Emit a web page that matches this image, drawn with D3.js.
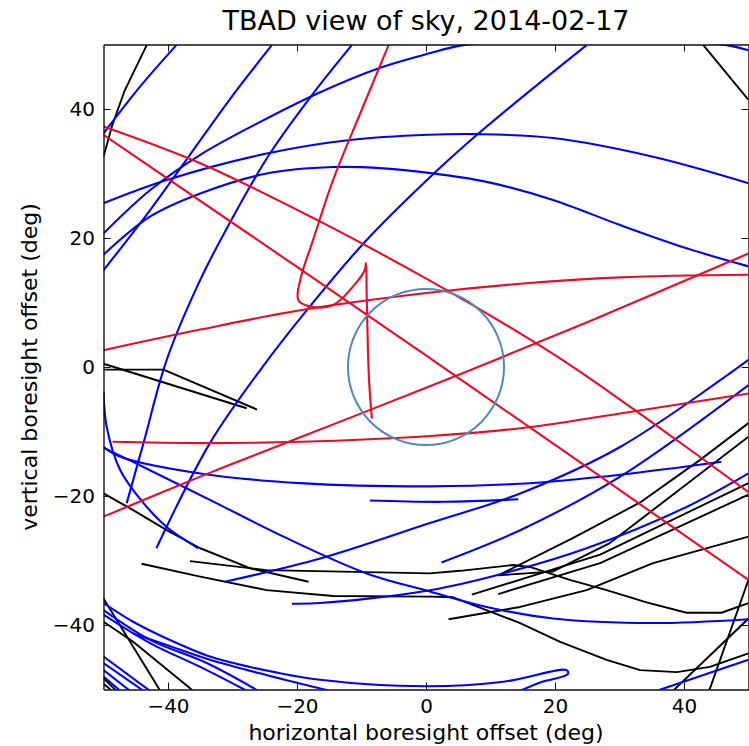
<!DOCTYPE html>
<html>
<head>
<meta charset="utf-8">
<script src="https://cdn.jsdelivr.net/npm/d3@7"></script>
<style>
  body { margin: 0; background: #ffffff; }
  svg { display: block; font-family: "DejaVu Sans", sans-serif; }
</style>
</head>
<body>
<div id="chart"></div>
<script>
/**
 * TBAD sky view - tracks across the boresight field, 2014-02-17
 * All values are in degrees of boresight offset [x, y]
 */

const chartTitle = 'TBAD view of sky, 2014-02-17';
const xLabel = 'horizontal boresight offset (deg)';
const yLabel = 'vertical boresight offset (deg)';
const xTicks = [-40, -20, 0, 20, 40];
const yTicks = [-40, -20, 0, 20, 40];
const fovRadius = 12.1;

// red tracks
const redUpperA = [[-50, 37.3], [-35.0, 31.6], [-16.9, 22.8], [0.4, 13.5], [14.6, 5.2], [23.4, -0.4], [35.2, -8.7], [50, -19.4]];
const redUpperB = [[-50, 36.0], [0, 1.8], [50, -33.0]];
const redArc = [[-50, 2.6], [-35.0, 5.8], [-19.5, 8.8], [0.4, 11.5], [14.6, 12.9], [30.1, 13.9], [50, 14.3]];
const redLoop = [[-5.8, 49.9], [-10.2, 39.3], [-14.4, 29.0], [-17.5, 19.7], [-19.5, 13.5], [-19.8, 10.4], [-18.0, 9.4],
  [-14.4, 9.6], [-11.3, 12.5], [-9.5, 15.0], [-9.3, 16.1], [-9.2, 11.4], [-8.9, -0.5], [-8.7, -4.1], [-8.4, -8.0]];
const redRise = [[-50, -23.2], [-35.0, -17.0], [-19.5, -10.9], [0.6, -3.0], [11.0, 1.2], [24.9, 6.9], [50, 17.6]];
const redLow = [[-48.6, -11.6], [-35.0, -11.8], [-19.5, -11.6], [0.6, -10.7], [14.6, -9.5], [30.1, -7.2], [50, -4.1]];

// blue tracks
const blueArcTop = [[-50, 20.7], [-42.8, 27.4], [-35.0, 32.9], [-25.7, 38.0], [-16.4, 42.6], [-7.1, 46.4], [0.4, 48.6],
  [5.8, 49.9], [26.2, 51.5], [46.6, 49.9], [50, 49.1]];
const blueArcMid = [[-50, 25.4], [-40.2, 29.0], [-24.7, 33.1], [-11.8, 35.2], [0.4, 36.0], [7.9, 36.1], [19.7, 35.5], [35.2, 32.6], [50, 28.5]];
const blueArcLow = [[-50, 17.4], [-42.8, 23.3], [-35.0, 26.9], [-24.7, 30.0], [-14.4, 31.0], [-6.6, 30.8], [0.4, 30.1],
  [9.4, 28.7], [19.7, 25.9], [30.1, 22.0], [40.4, 18.4], [50, 15.6]];
const blueCorner = [[-38.7, 49.9], [-44.3, 43.5], [-50, 36.2]];
const blueDiagA = [[-23.9, 49.9], [-29.9, 42.2], [-36.6, 32.9], [-42.8, 24.3], [-50, 15.0]];
const blueDiagB = [[-11.5, 49.9], [-17.5, 42.4], [-24.2, 33.1], [-29.9, 23.3], [-35.0, 13.5], [-40.2, 1.1], [-43.8, -11.8], [-46.4, -21.1]];
const blueDiagC = [[24.9, 49.9], [7.9, 36.0], [-0.9, 28.0], [-9.2, 19.7], [-18.0, 9.4], [-25.5, -0.2], [-33.5, -11.8], [-41.8, -28.1]];
const blueLeftBend = [[-50, -3.8], [-49.5, -9.3], [-47.4, -16.0], [-43.8, -21.1], [-40.2, -24.8], [-35.3, -28.1]];
const blueFlat = [[-50, -12.4], [-47.4, -13.9], [-35.0, -16.5], [-19.5, -18.0], [0.6, -18.5], [14.6, -18.1], [30.1, -16.7], [45.8, -14.7]];
const blueSweep = [[-50, -12.5], [-42.8, -16.0], [-32.5, -21.1], [-22.1, -26.3], [-9.2, -32.0], [0.6, -34.8], [9.4, -37.2],
  [19.7, -39.0], [35.2, -39.7], [50, -39.1]];
const blueShort = [[-8.7, -20.7], [2.8, -20.9], [14.3, -20.5]];
const blueRiseA = [[-31.2, -33.3], [-16.4, -29.7], [0.6, -24.2], [14.6, -19.6], [30.1, -12.4], [50, 1.1]];
const blueRiseB = [[-20.8, -36.7], [-16.4, -36.6], [0.6, -34.6], [12.0, -32.0], [24.9, -28.1], [40.4, -21.7], [50, -16.5]];
const blueRiseC = [[2.4, -30.3], [14.6, -25.3], [30.1, -17.0], [50, -2.8]];
const blueHook = [[-50, -36.6], [-45.4, -39.5], [-40.2, -42.1], [-33.5, -44.9], [-27.3, -46.5], [-16.4, -48.5], [0, -49.5],
  [12.0, -48.8], [21.8, -47.0], [22.0, -47.6], [17.7, -48.9], [14.6, -50.2]];
const blueBottomA = [[-45.4, -41.3], [-40.2, -43.1], [-33.5, -45.4], [-24.2, -47.9], [-14.9, -50.2]];
const blueBottomB = [[-50, -37.7], [-42.8, -42.3], [-34.0, -45.9], [-26.2, -50.1]];
const blueBottomC = [[-50, -38.4], [-42.8, -42.8], [-35.0, -46.5], [-27.8, -50.2]];
const blueCornerA = [[-50, -44.9], [-42.8, -50.2]];
const blueCornerB = [[-50, -45.9], [-43.8, -50.2]];
const blueCornerC = [[-50, -47.0], [-45.9, -50.2]];
const blueCornerD = [[-50, -48.0], [-47.4, -50.2]];
const blueBottomRight = [[35.8, -50.2], [50, -45.4]];

// black tracks
const blackTopLeft = [[-43.3, 49.9], [-46.7, 42.9], [-48.7, 37.3], [-50, 32.6]];
const blackTopRight = [[43.0, 49.9], [50, 41.4]];
const blackLeftA = [[-50, -0.4], [-40.7, -0.4], [-26.2, -6.6]];
const blackLeftB = [[-50, 0.5], [-27.8, -6.4]];
const blackLeftC = [[-50, -19.6], [-45.4, -22.2], [-40.2, -25.3], [-35.0, -28.1], [-27.3, -31.2], [-18.2, -33.3]];
const blackMidA = [[-36.6, -30.1], [-24.7, -31.5], [0.6, -32.0], [5.3, -31.6], [13.5, -30.7], [16.1, -31.0], [22.3, -33.0],
  [28.0, -34.6], [34.2, -36.5], [40.4, -38.1], [45.8, -38.1], [50, -36.6]];
const blackMidB = [[-44.1, -30.5], [-35.0, -32.5], [-24.7, -34.6], [-14.4, -35.5], [0.6, -35.6], [4.2, -35.7], [14.6, -39.7],
  [20.8, -42.6], [28.0, -45.4], [33.2, -47.0], [38.9, -47.3], [44.0, -46.5], [50, -44.4]];
const blackRiseA = [[3.5, -39.1], [14.6, -37.2], [24.9, -34.6], [35.2, -30.4], [50, -26.3]];
const blackRiseB = [[11.2, -32.3], [22.6, -26.6], [33.2, -21.0], [42.5, -14.4], [50, -8.7]];
const blackRiseC = [[11.2, -32.3], [19.7, -31.7], [28.5, -27.3], [50, -10.8]];
const blackRiseD = [[7.1, -35.3], [27.0, -29.1], [50, -18.0]];
const blackRiseE = [[11.2, -35.2], [27.0, -30.4], [50, -19.8]];
const blackEdgeA = [[38.3, -50.2], [50, -39.0]];
const blackEdgeB = [[43.9, -50.2], [50, -33.0]];
const blackCornerA = [[-50, -35.9], [-41.2, -50.2]];
const blackCornerB = [[-50, -39.5], [-45.4, -42.6], [-36.1, -50.2]];
const blackCornerC = [[-50, -48.3], [-48.0, -50.2]];
const blackCornerD = [[-50, -49.1], [-48.7, -50.2]];

const blackTracks = [blackTopLeft, blackTopRight, blackLeftA, blackLeftB, blackLeftC, blackMidA, blackMidB,
  blackRiseA, blackRiseB, blackRiseC, blackRiseD, blackRiseE, blackEdgeA, blackEdgeB,
  blackCornerA, blackCornerB, blackCornerC, blackCornerD];
const blueTracks = [blueArcTop, blueArcMid, blueArcLow, blueCorner, blueDiagA, blueDiagB, blueDiagC, blueLeftBend,
  blueFlat, blueSweep, blueShort, blueRiseA, blueRiseB, blueRiseC, blueHook, blueBottomA, blueBottomB, blueBottomC,
  blueCornerA, blueCornerB, blueCornerC, blueCornerD, blueBottomRight];
const redTracks = [redUpperA, redUpperB, redArc, redLoop, redRise, redLow];

const width = 749;
const height = 746;

/**
 * Build the chart
 */
function drawChart() {
  const svg = d3.select('#chart')
    .append('svg')
    .attr('width', width)
    .attr('height', height)
    .style('background', '#ffffff');

  const x = d3.scaleLinear().domain([-50, 50]).range([103.5, 748.5]);
  const y = d3.scaleLinear().domain([-50, 50]).range([689.5, 44.5]);

  svg.append('defs').append('clipPath')
    .attr('id', 'plotClip')
    .append('rect')
    .attr('x', x(-50))
    .attr('y', y(50))
    .attr('width', x(50) - x(-50))
    .attr('height', y(-50) - y(50));

  const plot = svg.append('g').attr('clip-path', 'url(#plotClip)');

  const straight = d3.line()
    .x(d => x(d[0]))
    .y(d => y(d[1]));

  const smooth = d3.line()
    .x(d => x(d[0]))
    .y(d => y(d[1]))
    .curve(d3.curveCatmullRom.alpha(0.5));

  // black tracks are piecewise, colored ones are smooth
  plot.append('g')
    .selectAll('path')
    .data(blackTracks)
    .join('path')
    .attr('d', straight)
    .attr('fill', 'none')
    .attr('stroke', '#000000')
    .attr('stroke-width', 1.9)
    .attr('stroke-linejoin', 'round');

  plot.append('g')
    .selectAll('path')
    .data(blueTracks)
    .join('path')
    .attr('d', smooth)
    .attr('fill', 'none')
    .attr('stroke', '#0000ff')
    .attr('stroke-width', 2.1)
    .attr('stroke-linejoin', 'round');

  plot.append('g')
    .selectAll('path')
    .data(redTracks)
    .join('path')
    .attr('d', smooth)
    .attr('fill', 'none')
    .attr('stroke', '#ec0a26')
    .attr('stroke-width', 2.1)
    .attr('stroke-linejoin', 'round');

  // boresight field of view
  plot.append('circle')
    .attr('cx', x(0))
    .attr('cy', y(0))
    .attr('r', x(fovRadius) - x(0))
    .attr('fill', 'none')
    .attr('stroke', '#5088c0')
    .attr('stroke-width', 2);

  // axes, ticks pointing inward on all four sides
  const tickLen = 7;
  const axes = [
    { axis: d3.axisBottom(x).tickValues(xTicks).tickPadding(9), at: `translate(0,${y(-50)})` },
    { axis: d3.axisTop(x).tickValues(xTicks).tickFormat(''), at: `translate(0,${y(50)})` },
    { axis: d3.axisLeft(y).tickValues(yTicks).tickPadding(8.5), at: `translate(${x(-50)},0)` },
    { axis: d3.axisRight(y).tickValues(yTicks).tickFormat(''), at: `translate(${x(50)},0)` }
  ];

  axes.forEach(a => {
    const g = svg.append('g')
      .attr('transform', a.at)
      .call(a.axis.tickSizeInner(-tickLen).tickSizeOuter(0));
    g.attr('font-family', '"DejaVu Sans", sans-serif').attr('font-size', 20);
    g.select('.domain').attr('stroke', '#111111').attr('stroke-width', 1.4);
    g.selectAll('.tick line').attr('stroke', '#111111').attr('stroke-width', 1);
    g.selectAll('.tick text').attr('fill', '#000000');
  });

  svg.append('text')
    .attr('x', x(0))
    .attr('y', 30)
    .attr('text-anchor', 'middle')
    .attr('font-size', 27)
    .attr('fill', '#000000')
    .text(chartTitle);

  svg.append('text')
    .attr('x', x(0))
    .attr('y', 740)
    .attr('text-anchor', 'middle')
    .attr('font-size', 22)
    .attr('fill', '#000000')
    .text(xLabel);

  svg.append('text')
    .attr('transform', `translate(37,${y(0)}) rotate(-90)`)
    .attr('text-anchor', 'middle')
    .attr('font-size', 22)
    .attr('fill', '#000000')
    .text(yLabel);
}

drawChart();
</script>
</body>
</html>
